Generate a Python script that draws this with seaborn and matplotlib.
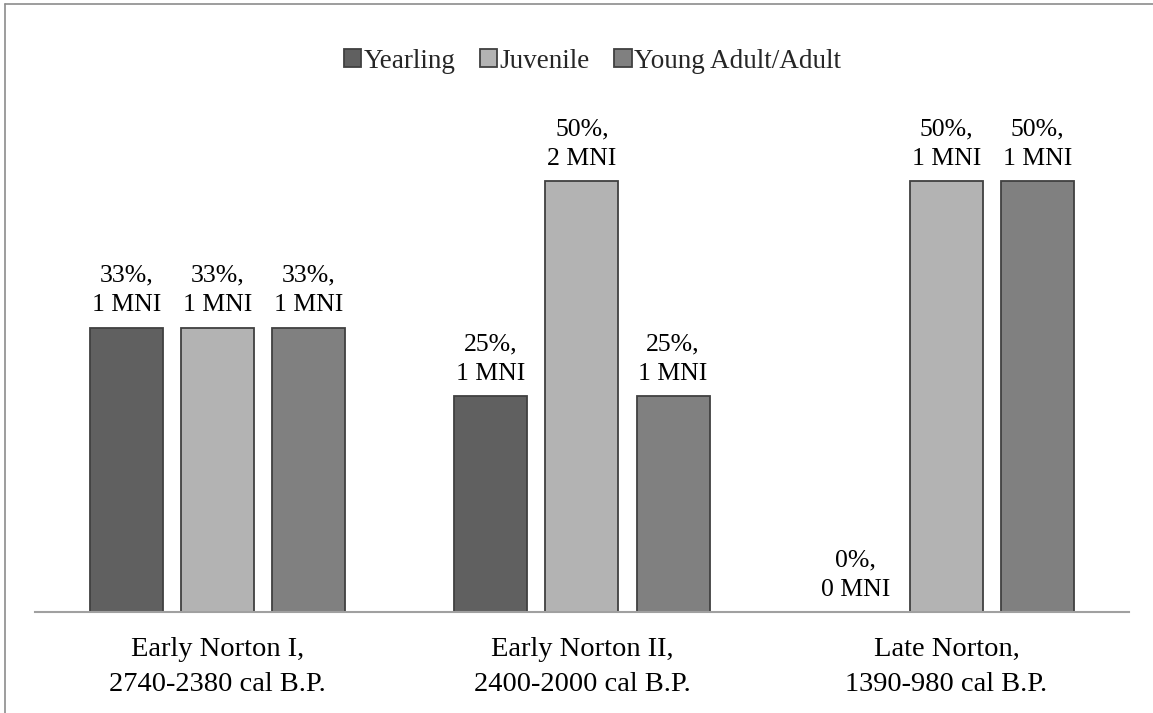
import matplotlib
matplotlib.use("Agg")
import matplotlib.pyplot as plt
from matplotlib.lines import Line2D
import seaborn as sns
import pandas as pd

periods = ["Early Norton I,\n2740-2380 cal B.P.",
           "Early Norton II,\n2400-2000 cal B.P.",
           "Late Norton,\n1390-980 cal B.P."]
age_classes = ["Yearling", "Juvenile", "Young Adult/Adult"]
yearling_pct = [33, 25, 0]
juvenile_pct = [33, 50, 50]
adult_pct = [33, 25, 50]
yearling_mni = [1, 1, 0]
juvenile_mni = [1, 2, 1]
adult_mni = [1, 1, 1]

rows = []
for cls, pcts, mnis in zip(age_classes,
                           [yearling_pct, juvenile_pct, adult_pct],
                           [yearling_mni, juvenile_mni, adult_mni]):
    for per, p, m in zip(periods, pcts, mnis):
        rows.append({"period": per, "age": cls, "pct": p, "mni": m})
df = pd.DataFrame(rows)

sns.set_theme(style="white")
plt.rcParams["font.family"] = ["Liberation Serif", "DejaVu Serif"]

palette = {"Yearling": "#606060", "Juvenile": "#b3b3b3", "Young Adult/Adult": "#808080"}

fig = plt.figure(figsize=(11.53, 7.13), dpi=100)
ax = fig.add_axes([0.0304, 0.1417, 0.9486, 0.7253])

sns.barplot(data=df, x="period", y="pct", hue="age", hue_order=age_classes,
            order=periods, palette=palette, width=0.75, gap=0.2,
            edgecolor="#404040", linewidth=1.3, saturation=1, ax=ax,
            legend=True)

for container, cls in zip(ax.containers, age_classes):
    sub = df[df["age"] == cls].set_index("period").loc[periods]
    labels = [f"{p}%,\n{m} MNI" for p, m in zip(sub["pct"], sub["mni"])]
    ax.bar_label(container, labels=labels, padding=8, fontsize=18.5,
                 color="#000000", linespacing=1.45)

ax.set_ylim(0, 60)
ax.set_xlim(-0.5, 2.5)
ax.set_xlabel("")
ax.set_ylabel("")
ax.set_yticks([])
ax.tick_params(axis="x", length=0, labelsize=20.5, pad=18, colors="#000000")
for lbl in ax.get_xticklabels():
    lbl.set_linespacing(1.55)
for side in ["top", "right", "left"]:
    ax.spines[side].set_visible(False)
ax.spines["bottom"].set_color("#a0a0a0")
ax.spines["bottom"].set_linewidth(1.5)

handles, labels = ax.get_legend_handles_labels()
ax.get_legend().remove()
fig.legend(handles, labels, loc="center", bbox_to_anchor=(0.514, 0.914), ncol=3,
           frameon=False, fontsize=19.5, handlelength=0.63, handleheight=0.63,
           handletextpad=0.1, columnspacing=0.9)

# chart area border (left and top edges)
fig.add_artist(Line2D([5 / 1153, 5 / 1153], [0, 1 - 4 / 713], transform=fig.transFigure,
                      color="#8c8c8c", linewidth=1.2))
fig.add_artist(Line2D([5 / 1153, 1], [1 - 4 / 713, 1 - 4 / 713], transform=fig.transFigure,
                      color="#8c8c8c", linewidth=1.2))

fig.savefig("out.png", dpi=100, facecolor="white")
